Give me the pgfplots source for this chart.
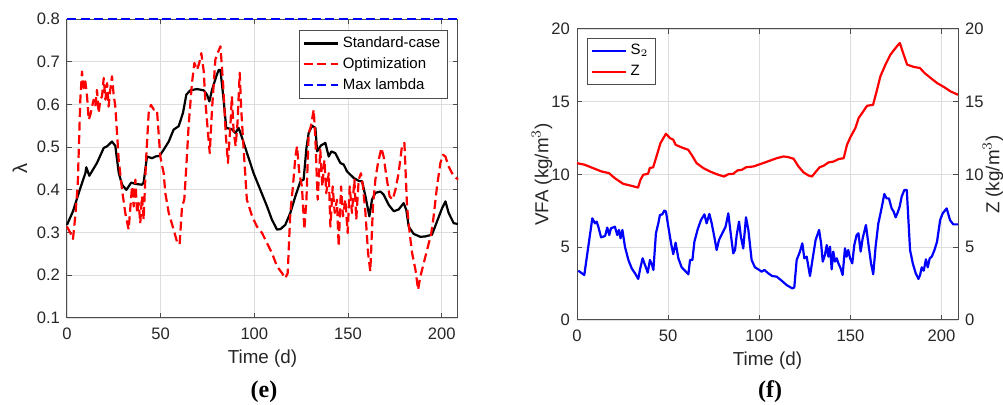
\documentclass[border=0pt]{standalone}
\usepackage{fontspec}
\setmainfont{Liberation Sans}
\newfontfamily\capfont{Liberation Serif}
\usepackage{pgfplots}
\pgfplotsset{compat=1.18}

\definecolor{axgray}{gray}{0.3}
\definecolor{mred}{rgb}{1,0,0}
\definecolor{mblue}{rgb}{0,0,1}

\pgfplotsset{
  matlab/.style={
    scale only axis,
    axis line style={axgray, line width=0.5pt},
    tick style={axgray, line width=0.5pt},
    major tick length=2.5pt,
    tick align=inside,
    grid=major,
    major grid style={black!13, line width=0.4pt},
    ticklabel style={font=\fontsize{8.3}{9}\selectfont, text=black!85},
    xticklabel style={yshift=-1.5pt},
    label style={font=\fontsize{9.4}{10}\selectfont, text=black!85},
    /pgf/number format/assume math mode=true,
    xtick={0,50,100,150,200},
    xlabel={Time (d)},
    xlabel style={at={(rel axis cs:0.5,0)}, anchor=center, yshift=-20.5pt},
    clip=false,
    legend cell align=left,
    legend style={font=\fontsize{7.5}{9}\selectfont, draw=black!70, line width=0.5pt,
      inner xsep=1.5pt, inner ysep=1pt, row sep=-0.5pt},
    legend image code/.code={\draw[#1] (0pt,0pt) -- (17pt,0pt);},
  },
  dashedline/.style={line width=1.1pt, dash pattern=on 4.5pt off 2.3pt},
}

\begin{document}
\begin{tikzpicture}
\useasboundingbox (0,0) rectangle (501.5pt,202.5pt);

% ---------- (e) ----------
\begin{axis}[matlab,
  at={(33.5pt,43.5pt)}, anchor=south west,
  width=195.5pt, height=149.5pt,
  xmin=0, xmax=208.7, ymin=0.1, ymax=0.8,
  ytick={0.1,0.2,0.3,0.4,0.5,0.6,0.7,0.8},
  yticklabel style={/pgf/number format/.cd, fixed, fixed zerofill, precision=1},
  ylabel={λ},
  ylabel style={at={(rel axis cs:0,0.5)}, anchor=center, yshift=23.5pt,
    font=\fontsize{10}{11}\selectfont},
  legend style={at={(0.974,0.963)}, anchor=north east},
]
\addplot[black, line width=1.1pt, line join=round] coordinates {
(0,0.318)(3.2,0.35)(7.1,0.404)(9.8,0.439)(10.3,0.453)(11.9,0.433)(16,0.463)(19.6,0.498)
(21.4,0.502)(24,0.513)(25.8,0.503)(27.6,0.44)(29.4,0.412)(31.7,0.40)(34.3,0.417)(36.5,0.414)
(40,0.412)(40.9,0.417)(42.7,0.478)(45.4,0.474)(47.2,0.478)(49.5,0.48)(51.6,0.494)(54.3,0.513)
(56.9,0.541)(59.6,0.549)(61.9,0.58)(63.7,0.623)(65.8,0.633)(69.4,0.636)(73,0.633)(74.7,0.623)
(76,0.607)(77.4,0.634)(79.7,0.666)(81,0.681)(81.9,0.68)(83.6,0.611)(85,0.545)(88,0.542)
(89.9,0.533)(91.6,0.545)(92.9,0.529)(95.2,0.498)(99.6,0.439)(103.2,0.40)(106.8,0.361)(109.4,0.33)
(112.1,0.307)(113.9,0.308)(116.5,0.318)(119.2,0.346)(121.9,0.385)(124.6,0.42)(126.3,0.424)(127.8,0.498)
(129,0.533)(130.8,0.55)(132.6,0.545)(133.5,0.49)(135.6,0.504)(137.9,0.51)(139.7,0.478)(141.1,0.49)
(143.2,0.486)(145.9,0.463)(147.7,0.459)(149.5,0.443)(153,0.428)(155.7,0.421)(157.5,0.42)(159.3,0.385)
(161.4,0.338)(162.8,0.377)(164.6,0.393)(167.3,0.396)(169,0.389)(171.7,0.365)(174.4,0.35)(177,0.354)
(179.7,0.369)(181.1,0.353)(182.4,0.314)(185,0.297)(188.6,0.29)(191.3,0.291)(194.8,0.295)(197.5,0.326)
(200.2,0.357)(202,0.373)(203.7,0.346)(206.4,0.322)(208.7,0.32)
};
\addlegendentry{Standard-case}
\addplot[mred, dashedline, line join=round] coordinates {
(0,0.314)(1.8,0.299)(3.2,0.285)(4.4,0.338)(5.7,0.408)(7.1,0.61)(8,0.677)(8.9,0.638)
(9.8,0.654)(10.7,0.619)(11.6,0.564)(12.5,0.576)(14.2,0.611)(15.1,0.595)(16,0.634)(16.9,0.58)
(17.8,0.611)(18.7,0.619)(19.6,0.662)(20.5,0.611)(21.4,0.65)(22.2,0.595)(23.1,0.634)(24,0.666)
(24.9,0.623)(25.8,0.595)(27.6,0.47)(29.4,0.40)(31.1,0.346)(32.9,0.307)(34.7,0.408)(35.6,0.361)
(36.5,0.424)(37.4,0.346)(38.3,0.369)(39.1,0.322)(40,0.385)(40.9,0.33)(42.2,0.47)(43.6,0.58)
(44.8,0.599)(46.3,0.588)(48,0.588)(49.8,0.478)(51.6,0.439)(52.5,0.392)(54.3,0.346)(56.9,0.307)
(58.7,0.279)(60.1,0.272)(61.4,0.361)(62.6,0.377)(63.7,0.455)(64.9,0.549)(66.7,0.65)(68,0.697)
(69.4,0.681)(70.6,0.697)(71.7,0.72)(73,0.677)(73.8,0.611)(75.1,0.541)(76.2,0.486)(77.4,0.588)
(79.2,0.705)(80.4,0.72)(81.9,0.736)(83.3,0.65)(84.7,0.533)(85.9,0.463)(87.2,0.549)(88,0.619)
(88.9,0.541)(90,0.502)(91,0.556)(92.2,0.674)(93,0.588)(94.3,0.494)(96,0.377)(98.8,0.338)
(101.4,0.314)(104.1,0.299)(106.8,0.275)(109.4,0.252)(112.1,0.221)(114.8,0.205)(116.5,0.193)(117.8,0.205)
(119.2,0.346)(120.6,0.408)(121.9,0.478)(122.8,0.502)(124,0.439)(125.4,0.408)(126.7,0.307)(127.8,0.377)
(129,0.533)(130.2,0.549)(131.7,0.588)(132.6,0.517)(133.8,0.377)(135.2,0.494)(136.3,0.408)(137.4,0.47)
(138.4,0.392)(139.7,0.439)(140.6,0.314)(141.8,0.408)(142.9,0.346)(144.1,0.377)(145,0.268)(146.3,0.408)
(147.3,0.338)(148.6,0.377)(149.8,0.299)(150.9,0.408)(152.1,0.346)(153.4,0.424)(154.4,0.33)(155.7,0.424)
(156.9,0.439)(158,0.408)(159.3,0.346)(160.7,0.252)(161.9,0.209)(163.3,0.361)(164.6,0.424)(166,0.463)
(167.8,0.498)(169,0.478)(170.5,0.431)(172.2,0.385)(173.8,0.377)(175.3,0.40)(177,0.439)(178.8,0.502)
(180.1,0.51)(181.5,0.361)(182.9,0.299)(184.2,0.252)(186,0.213)(187.4,0.166)(188.6,0.197)(190,0.221)
(191.3,0.244)(192.7,0.268)(194.3,0.295)(195.7,0.338)(197.5,0.408)(199.3,0.463)(200.7,0.482)(202,0.478)
(203.7,0.455)(206,0.435)(208.7,0.424)
};
\addlegendentry{Optimization}
\addplot[mblue, dashedline] coordinates {(0,0.8)(208.7,0.8)};
\addlegendentry{Max lambda}
\end{axis}

% ---------- (f) ----------
\begin{axis}[matlab,
  at={(288.5pt,42.5pt)}, anchor=south west,
  width=190.5pt, height=145.5pt,
  xmin=0, xmax=209, ymin=0, ymax=20,
  ytick={0,5,10,15,20},
  ytick pos=left,
  ylabel={VFA (kg/m$^3$)},
  ylabel style={at={(rel axis cs:0,0.5)}, anchor=center, yshift=17.5pt},
  legend style={at={(0.026,0.969)}, anchor=north west},
]
\addplot[mblue, line width=1.1pt, line join=round] coordinates {
(0.7,3.39)(4.0,3.09)(6.2,5.04)(8.4,6.99)(9.9,6.64)(10.8,6.76)(11.7,6.41)(13.2,5.68)
(15.4,5.77)(16.6,6.35)(17.7,5.84)(18.6,6.3)(20.8,6.41)(22.1,5.84)(23.0,6.19)(23.9,5.61)
(24.9,6.19)(26.3,5.04)(28.2,4.12)(30,3.55)(31.8,3.21)(33.6,2.82)(34.7,3.55)(36,4.24)
(37.3,3.78)(38.8,3.25)(40,4.12)(41,3.85)(41.9,3.44)(43.3,5.96)(44.6,6.64)(45.5,7.22)
(46.8,7.26)(47.9,7.52)(48.8,7.45)(50.1,6.41)(51.6,5.27)(52.8,4.53)(54.1,5.31)(55.6,4.24)
(57.4,3.62)(59.2,3.39)(61.1,3.14)(62,4.12)(63.3,4.12)(64.4,5.38)(66.2,6.23)(68.0,6.87)
(69.9,7.26)(71.1,6.64)(72.6,7.29)(73.9,6.64)(75.3,5.73)(76.6,4.81)(77.9,5.5)(79.7,5.96)
(81.5,6.41)(83,7.33)(84.3,5.96)(85.7,4.58)(86.7,4.81)(87.6,5.84)(88.9,6.76)(89.9,5.73)
(91.2,4.92)(92.7,7.06)(94,6.19)(95.8,4.12)(97.6,3.62)(99.5,3.48)(101.3,3.32)(102.8,3.44)
(104.9,3.21)(107.1,3.02)(109.5,2.98)(112.3,2.70)(115,2.40)(118.1,2.17)(119.2,2.24)(120.5,4.12)
(122.3,4.7)(123.6,5.27)(124.7,4.24)(126,4.35)(127.8,3.02)(129.3,4.24)(130.9,5.5)(132.8,6.19)
(133.9,5.27)(134.8,4.01)(136,4.47)(137,5.15)(137.9,4.35)(138.8,5.04)(139.7,3.48)(140.6,4.7)
(141.5,4.01)(142.5,4.24)(143.4,3.89)(144.6,3.55)(145.7,3.09)(147,4.93)(147.9,4.35)(148.8,4.81)
(149.8,4.24)(151,3.89)(152.1,5.15)(153.4,5.84)(154.4,5.96)(155.6,4.7)(156.7,5.61)(158.5,6.53)
(159.8,5.27)(161.3,3.89)(162.5,3.14)(163.8,5.04)(165.3,6.64)(166.7,7.45)(168.6,8.66)(169.8,8.36)
(171.1,8.36)(172.6,7.67)(173.7,7.45)(174.8,7.06)(175.9,7.38)(177,7.79)(178.1,8.48)(179.6,8.94)
(180.9,8.94)(181.8,6.87)(182.7,4.81)(184.2,3.89)(185.8,3.21)(187.3,2.82)(188.2,3.09)(189.1,3.62)
(190.2,3.39)(191.4,4.17)(192.4,3.62)(193.5,4.24)(194.6,4.35)(196.1,4.81)(197.5,5.38)(199.2,6.87)
(200.6,7.33)(202.8,7.67)(204.6,6.87)(206.4,6.57)(209,6.57)
};
\addlegendentry{S$_2$}
\addplot[mred, line width=1.1pt, line join=round] coordinates {
(0,10.78)(4.2,10.67)(8.8,10.44)(13.4,10.21)(17.6,10.09)(20.7,9.75)(25.3,9.36)(29.9,9.22)
(33.5,9.1)(34.8,9.63)(36.3,9.98)(39,10.05)(39.9,10.44)(41.8,10.5)(43.6,11.24)(45.8,12.16)
(48.8,12.8)(51,12.5)(52.8,12.39)(54.1,12.04)(57.4,11.86)(61,11.7)(62.9,11.35)(65.6,10.78)
(69.3,10.44)(72.9,10.21)(76.6,10.02)(80.6,9.86)(83,10.02)(85.8,10.05)(88,10.28)(90.4,10.32)
(92.8,10.5)(96.8,10.55)(99.5,10.67)(103.2,10.83)(106,10.96)(109.6,11.12)(113.3,11.24)(116,11.19)
(118.8,11.08)(121.5,10.55)(124.3,10.14)(127,9.93)(128.9,9.86)(130.7,10.14)(133.1,10.5)(135.3,10.6)
(138,10.83)(140.8,10.89)(143.5,11.06)(146.3,11.12)(148.1,12.04)(150,12.57)(152.7,13.19)(154.5,13.88)
(156.4,14.22)(159.1,14.72)(162.4,14.79)(164.6,15.83)(166.4,16.74)(169.2,17.55)(171.9,18.23)(174.7,18.69)
(177.1,19.04)(178.9,18.35)(181.1,17.55)(184.8,17.39)(188.1,17.32)(190.7,16.97)(194,16.63)(197.6,16.28)
(201.3,16.01)(204.9,15.71)(209,15.48)
};
\addlegendentry{Z}
\end{axis}
\begin{axis}[matlab,
  at={(288.5pt,42.5pt)}, anchor=south west,
  width=190.5pt, height=145.5pt,
  xmin=0, xmax=209, ymin=0, ymax=20,
  grid=none, xlabel={}, xtick=\empty,
  axis x line=none, axis y line*=right,
  ytick={0,5,10,15,20},
  ylabel={Z (kg/m$^3$)},
  ylabel style={at={(rel axis cs:1,0.5)}, anchor=center, yshift=-17.5pt},
]
\addplot[draw=none] coordinates {(0,0)};
\end{axis}

\node[font=\capfont\bfseries\fontsize{12}{13}\selectfont] at (132pt,6.5pt) {(e)};
\node[font=\capfont\bfseries\fontsize{12}{13}\selectfont] at (385pt,6.5pt) {(f)};
\end{tikzpicture}
\end{document}
